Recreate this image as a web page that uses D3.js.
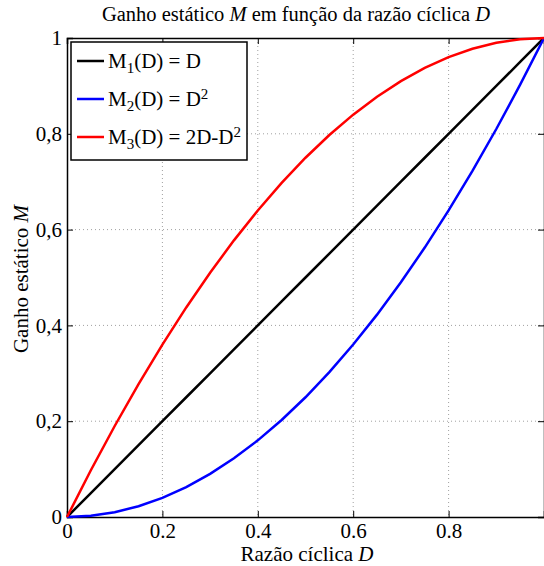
<!DOCTYPE html>
<html>
<head>
<meta charset="utf-8">
<script src="https://cdn.jsdelivr.net/npm/d3@7"></script>
<style>
  body { margin: 0; background: #fff; }
  svg text { font-family: "Liberation Serif", "Times New Roman", serif !important; }
</style>
</head>
<body>
<script>
// duty cycle samples and the three gains
const dValues = [0, 0.05, 0.1, 0.15, 0.2, 0.25, 0.3, 0.35, 0.4, 0.45, 0.5,
                 0.55, 0.6, 0.65, 0.7, 0.75, 0.8, 0.85, 0.9, 0.95, 1];
const m1Values = [0, 0.05, 0.1, 0.15, 0.2, 0.25, 0.3, 0.35, 0.4, 0.45, 0.5,
                  0.55, 0.6, 0.65, 0.7, 0.75, 0.8, 0.85, 0.9, 0.95, 1];
const m2Values = [0, 0.0025, 0.01, 0.0225, 0.04, 0.0625, 0.09, 0.1225, 0.16, 0.2025, 0.25,
                  0.3025, 0.36, 0.4225, 0.49, 0.5625, 0.64, 0.7225, 0.81, 0.9025, 1];
const m3Values = [0, 0.0975, 0.19, 0.2775, 0.36, 0.4375, 0.51, 0.5775, 0.64, 0.6975, 0.75,
                  0.7975, 0.84, 0.8775, 0.91, 0.9375, 0.96, 0.9775, 0.99, 0.9975, 1];
const xTicks = [0, 0.2, 0.4, 0.6, 0.8];
const yTicks = [0, 0.2, 0.4, 0.6, 0.8, 1];
const seriesColors = ["#000000", "#0000ff", "#ff0000"];

let W = 544, H = 566;
let margin = {top: 38, right: 0, bottom: 49, left: 67};
let width = W - margin.left - margin.right,
    height = H - margin.top - margin.bottom;

let svg = d3.select("body").append("svg")
    .attr("width", W)
    .attr("height", H)
    .attr("font-family", "Liberation Serif");

let g = svg.append("g")
    .attr("transform", "translate(" + margin.left + "," + margin.top + ")");

let x = d3.scaleLinear().domain([0, 1]).range([0, width]);
let y = d3.scaleLinear().domain([0, 1]).range([height, 0]);

// dotted grid
g.append("g").selectAll("line")
    .data(xTicks.filter(t => t > 0))
    .enter().append("line")
    .attr("x1", d => x(d)).attr("x2", d => x(d))
    .attr("y1", 0).attr("y2", height)
    .attr("stroke", "#a0a0a0").attr("stroke-width", 1)
    .attr("stroke-dasharray", "1,3");
g.append("g").selectAll("line")
    .data(yTicks.filter(t => t > 0 && t < 1))
    .enter().append("line")
    .attr("x1", 0).attr("x2", width)
    .attr("y1", d => y(d)).attr("y2", d => y(d))
    .attr("stroke", "#a0a0a0").attr("stroke-width", 1)
    .attr("stroke-dasharray", "1,3");

// axes, ticks pointing inward like matlab
let xAxis = d3.axisBottom(x).tickValues(xTicks).tickSize(-6).tickPadding(6)
    .tickFormat(d => d === 0 ? "0" : d3.format(".1f")(d));
let yAxis = d3.axisLeft(y).tickValues(yTicks).tickSize(-6).tickPadding(5)
    .tickFormat(d => (d === 0 || d === 1) ? String(d) : d3.format(".1f")(d).replace(".", ","));

let gx = g.append("g").attr("transform", "translate(0," + height + ")").call(xAxis);
let gy = g.append("g").call(yAxis);
let gtop = g.append("g").call(d3.axisTop(x).tickValues(xTicks).tickSize(-6).tickFormat(""));
let gright = g.append("g").attr("transform", "translate(" + width + ",0)")
    .call(d3.axisRight(y).tickValues(yTicks).tickSize(-6).tickFormat(""));

[gx, gy, gtop, gright].forEach(a => {
  a.attr("font-family", null).attr("font-size", null);
  a.select(".domain").attr("stroke", "#000").attr("stroke-width", 1.5);
  a.selectAll(".tick line").attr("stroke", "#000").attr("stroke-width", 1);
  a.selectAll("text").attr("fill", "#000").style("font-size", "21px");
});
gx.selectAll(".tick text").attr("dy", "0.71em");

// curves
let series = [m1Values, m2Values, m3Values];
let line = d3.line()
    .x((d, i) => x(dValues[i]))
    .y(d => y(d));

g.selectAll(".curve")
    .data(series)
    .enter().append("path")
    .attr("class", "curve")
    .attr("fill", "none")
    .attr("stroke", (d, i) => seriesColors[i])
    .attr("stroke-width", 2.5)
    .attr("d", line);

// legend
let legend = g.append("g").attr("transform", "translate(4,4)");
legend.append("rect")
    .attr("width", 176).attr("height", 118)
    .attr("fill", "#fff").attr("stroke", "#000").attr("stroke-width", 1.5);

let rowY = [19, 57, 95];
let labels = [
  [["M", 0], ["1", -1], ["(D) = D", 0]],
  [["M", 0], ["2", -1], ["(D) = D", 0], ["2", 1]],
  [["M", 0], ["3", -1], ["(D) = 2D-D", 0], ["2", 1]]
];
labels.forEach((parts, i) => {
  legend.append("line")
    .attr("x1", 6).attr("x2", 33)
    .attr("y1", rowY[i]).attr("y2", rowY[i])
    .attr("stroke", seriesColors[i]).attr("stroke-width", 2.5);
  let t = legend.append("text")
    .attr("x", 37).attr("y", rowY[i] + 7)
    .style("font-size", "21px");
  parts.forEach(p => {
    let ts = t.append("tspan").text(p[0]);
    if (p[1] === -1) ts.attr("baseline-shift", "-30%").style("font-size", "15px");
    if (p[1] === 1) ts.attr("baseline-shift", "45%").style("font-size", "15px");
  });
});

// title and axis labels
let title = svg.append("text")
    .attr("x", 296).attr("y", 21)
    .attr("text-anchor", "middle")
    .style("font-size", "20.5px");
title.append("tspan").text("Ganho estático ");
title.append("tspan").style("font-style", "italic").text("M");
title.append("tspan").text(" em função da razão cíclica ");
title.append("tspan").style("font-style", "italic").text("D");

let xl = svg.append("text")
    .attr("x", 307).attr("y", 561)
    .attr("text-anchor", "middle")
    .style("font-size", "21px");
xl.append("tspan").text("Razão cíclica ");
xl.append("tspan").style("font-style", "italic").text("D");

let yl = svg.append("text")
    .attr("transform", "translate(28,279) rotate(-90)")
    .attr("text-anchor", "middle")
    .style("font-size", "21px");
yl.append("tspan").text("Ganho estático ");
yl.append("tspan").style("font-style", "italic").text("M");
</script>
</body>
</html>
